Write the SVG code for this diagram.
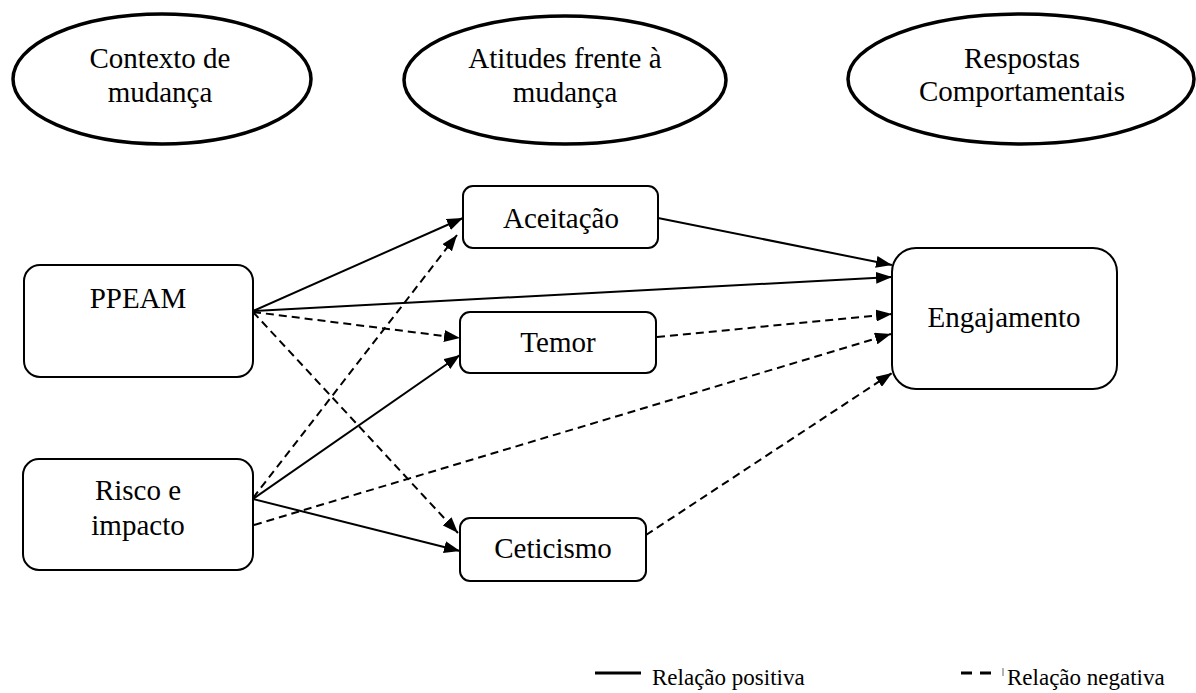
<svg xmlns="http://www.w3.org/2000/svg" width="1196" height="693" viewBox="0 0 1196 693">
<style>
  text { font-family: 'Liberation Serif', 'DejaVu Serif', serif; fill: #000; }
  .t { font-size: 29px; text-anchor: middle; }
  .lg { font-size: 23px; }
  .ell { fill: #fff; stroke: #000; stroke-width: 3.5; }
  .box { fill: #fff; stroke: #000; stroke-width: 2; }
  .pos { stroke: #000; stroke-width: 2; fill: none; marker-end: url(#ah); }
  .neg { stroke: #000; stroke-width: 2; fill: none; stroke-dasharray: 8 5; marker-end: url(#ah); }
</style>
<defs>
  <marker id="ah" viewBox="0 0 16 12" refX="16" refY="6" markerWidth="16" markerHeight="12" markerUnits="userSpaceOnUse" orient="auto">
    <path d="M0,0 L16,6 L0,12 z" fill="#000"/>
  </marker>
</defs>
<rect width="1196" height="693" fill="#fff"/>

<g id="header-contexto">
  <ellipse class="ell" cx="162" cy="79" rx="149" ry="65"/>
  <text class="t" x="160" y="68" font-family="Liberation Serif, serif">Contexto de</text>
  <text class="t" x="160" y="102" font-family="Liberation Serif, serif">mudança</text>
</g>
<g id="header-atitudes">
  <ellipse class="ell" cx="565" cy="80" rx="161" ry="64"/>
  <text class="t" x="565" y="68" font-family="Liberation Serif, serif">Atitudes frente à</text>
  <text class="t" x="565" y="102" font-family="Liberation Serif, serif">mudança</text>
</g>
<g id="header-respostas">
  <ellipse class="ell" cx="1021" cy="79" rx="173" ry="65"/>
  <text class="t" x="1022" y="68" font-family="Liberation Serif, serif">Respostas</text>
  <text class="t" x="1022" y="101" font-family="Liberation Serif, serif">Comportamentais</text>
</g>

<g id="connectors">
  <line class="pos" x1="253" y1="311" x2="463" y2="218"/>
  <line class="pos" x1="253" y1="311" x2="892" y2="277"/>
  <line class="neg" x1="253" y1="312" x2="460" y2="338"/>
  <line class="neg" x1="253" y1="312" x2="458" y2="533"/>
  <line class="neg" x1="253" y1="498" x2="457" y2="235"/>
  <line class="pos" x1="253" y1="499" x2="460" y2="355"/>
  <line class="pos" x1="253" y1="499" x2="460" y2="551"/>
  <line class="neg" x1="254" y1="525" x2="891" y2="334"/>
  <line class="pos" x1="658" y1="218" x2="892" y2="265"/>
  <line class="neg" x1="657" y1="337" x2="892" y2="314"/>
  <line class="neg" x1="646" y1="535" x2="892" y2="373"/>
</g>

<g id="node-ppeam">
  <rect class="box" x="24" y="265" width="229" height="112" rx="16"/>
  <text class="t" x="138" y="308" font-family="Liberation Serif, serif">PPEAM</text>
</g>
<g id="node-risco">
  <rect class="box" x="23" y="459" width="230" height="111" rx="16"/>
  <text class="t" x="138" y="500" font-family="Liberation Serif, serif">Risco e</text>
  <text class="t" x="138" y="535" font-family="Liberation Serif, serif">impacto</text>
</g>
<g id="node-aceitacao">
  <rect class="box" x="463" y="186" width="195" height="62" rx="10"/>
  <text class="t" x="561" y="228" font-family="Liberation Serif, serif">Aceitação</text>
</g>
<g id="node-temor">
  <rect class="box" x="460" y="312" width="196" height="61" rx="10"/>
  <text class="t" x="558" y="352" font-family="Liberation Serif, serif">Temor</text>
</g>
<g id="node-ceticismo">
  <rect class="box" x="460" y="518" width="186" height="63" rx="10"/>
  <text class="t" x="553" y="558" font-family="Liberation Serif, serif">Ceticismo</text>
</g>
<g id="node-engajamento">
  <rect class="box" x="892" y="248" width="225" height="141" rx="24"/>
  <text class="t" x="1004" y="327" font-family="Liberation Serif, serif">Engajamento</text>
</g>

<g id="legend">
  <line x1="595" y1="673" x2="641" y2="673" stroke="#000" stroke-width="3"/>
  <text class="lg" x="652" y="685" font-family="Liberation Serif, serif">Relação positiva</text>
  <line x1="961" y1="673" x2="998" y2="673" stroke="#000" stroke-width="3" stroke-dasharray="11 8"/>
  <line x1="1003" y1="668" x2="1003" y2="676" stroke="#000" stroke-width="0.6"/>
  <text class="lg" x="1007" y="685" font-family="Liberation Serif, serif">Relação negativa</text>
</g>
</svg>
